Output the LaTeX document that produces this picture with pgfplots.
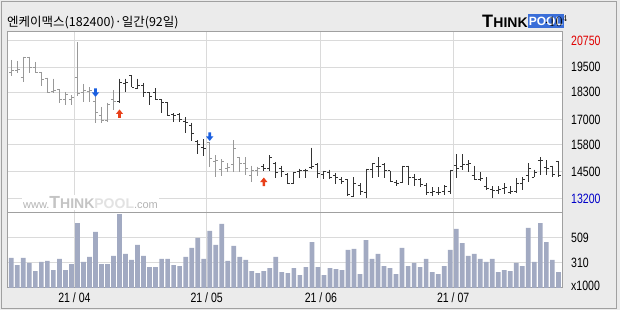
\documentclass[border=0pt]{standalone}
\usepackage{pgfplots}
\pgfplotsset{compat=1.18}
\usepackage{pgfplotstable}
\usepackage{fontspec}
\setmainfont{Liberation Sans}
\newfontfamily\krfont{Noto Sans CJK KR}
\newfontfamily\tickfont[FakeStretch=0.78]{Liberation Sans}
\definecolor{bg}{HTML}{EBEBEB}
\definecolor{framec}{HTML}{A0A0A0}
\definecolor{gridc}{HTML}{DADADA}
\definecolor{volc}{HTML}{A2AAC2}
\definecolor{bargrey}{HTML}{999999}
\definecolor{bardark}{HTML}{333333}
\definecolor{sigblue}{HTML}{1A5FE0}
\definecolor{sigred}{HTML}{E8401A}
\definecolor{tpblue}{HTML}{3A6ED8}
\definecolor{lblred}{HTML}{E00000}
\definecolor{lblblue}{HTML}{0000C8}

\pgfdeclareplotmark{otick}{\pgfpathmoveto{\pgfqpoint{-2.5pt}{0pt}}\pgfpathlineto{\pgfqpoint{0pt}{0pt}}\pgfusepathqstroke}
\pgfdeclareplotmark{ctick}{\pgfpathmoveto{\pgfqpoint{0pt}{0pt}}\pgfpathlineto{\pgfqpoint{2.5pt}{0pt}}\pgfusepathqstroke}
\pgfdeclareplotmark{dnarrow}{\pgfpathmoveto{\pgfqpoint{-1.3pt}{4.5pt}}\pgfpathlineto{\pgfqpoint{1.3pt}{4.5pt}}\pgfpathlineto{\pgfqpoint{1.3pt}{0.5pt}}\pgfpathlineto{\pgfqpoint{3.6pt}{0.5pt}}\pgfpathlineto{\pgfqpoint{0pt}{-4pt}}\pgfpathlineto{\pgfqpoint{-3.6pt}{0.5pt}}\pgfpathlineto{\pgfqpoint{-1.3pt}{0.5pt}}\pgfpathclose\pgfusepathqfill}
\pgfdeclareplotmark{uparrow}{\pgfpathmoveto{\pgfqpoint{-1.3pt}{-4.5pt}}\pgfpathlineto{\pgfqpoint{1.3pt}{-4.5pt}}\pgfpathlineto{\pgfqpoint{1.3pt}{-0.5pt}}\pgfpathlineto{\pgfqpoint{3.6pt}{-0.5pt}}\pgfpathlineto{\pgfqpoint{0pt}{4pt}}\pgfpathlineto{\pgfqpoint{-3.6pt}{-0.5pt}}\pgfpathlineto{\pgfqpoint{-1.3pt}{-0.5pt}}\pgfpathclose\pgfusepathqfill}

\pgfplotstableread{
i o h l c
0 19250 19850 19100 19350
1 19350 19800 19200 19400
2 19000 20000 18800 19950
3 19950 20000 19200 19500
4 19500 19750 19200 19250
5 19250 19250 18600 18900
6 18950 19000 18250 18300
7 18350 18950 18250 18400
8 18450 18450 17800 17950
9 17950 18300 17700 18200
10 17950 18150 17700 18050
11 19000 20700 18100 18250
12 18300 18700 17850 18400
13 18350 18550 17850 18400
14 17850 18050 16850 17350
15 17200 17600 16850 16950
16 16950 17800 16900 17700
17 17950 18400 17450 17850
18 17850 18950 17800 18750
19 18700 18950 18300 18750
20 19100 19100 18550 18550
21 18500 18950 18500 18600
22 18600 18750 18050 18300
23 18300 18300 17700 18100
24 18300 18500 17950 17950
25 17950 17950 17300 17800
26 17800 17800 17150 17200
27 17250 17300 16900 17200
28 17250 17300 16900 17000
29 16900 17100 16350 16850
30 16700 16850 15950 16350
31 15950 16000 15350 15800
32 15650 16050 15250 15600
33 15900 15900 14750 15150
34 15000 15300 14250 15050
35 14600 15100 14300 15000
36 14650 14900 14500 14700
37 14850 16000 14500 15600
38 15200 15200 14500 14900
39 14900 15200 14350 14650
40 14300 14800 14000 14550
41 14550 14750 14300 14650
42 14750 14850 14550 14650
43 14650 15300 14550 15200
44 14900 14950 14200 14450
45 14650 14800 14250 14500
46 14350 14450 13900 13950
47 13950 14500 13900 14450
48 14500 14650 14200 14550
49 14550 14650 14200 14550
50 14700 15650 14650 14750
51 14850 14900 14200 14400
52 14350 14550 14150 14500
53 14450 14600 14150 14250
54 14300 14450 13900 14250
55 14150 14250 13900 14050
56 14150 14150 13350 13400
57 13300 14250 13300 13950
58 13850 13950 13400 13550
59 13500 14650 13250 14600
60 14600 14900 14200 14900
61 14750 15200 14250 14750
62 14850 14900 14200 14550
63 14550 14550 14000 14050
64 14000 14100 13800 13950
65 14000 14800 13950 14750
66 14750 14800 13850 14250
67 14250 14400 13800 14150
68 14150 14200 13750 13900
69 13850 13950 13400 13500
70 13500 13750 13350 13550
71 13500 13750 13400 13500
72 13550 13850 13400 13800
73 13550 14600 13450 14550
74 14800 15350 14200 14650
75 14750 15350 14600 14850
76 14850 15050 14500 14900
77 14300 14800 14100 14150
78 14150 14500 14050 14200
79 13800 14250 13650 13700
80 13650 13800 13250 13600
81 13600 13800 13450 13650
82 13700 13950 13450 13750
83 13500 13800 13450 13550
84 13550 14200 13500 13950
85 13950 14250 13650 14150
86 14300 14900 14000 14650
87 14250 14600 14250 14450
88 15050 15200 14350 15050
89 14700 15050 14350 14650
90 14750 14800 14250 14350
91 15000 15000 14250 14300
}\ohlcdata

\pgfplotstableread{
i v
0 346
1 290
2 346
3 306
4 242
5 314
6 322
7 250
8 338
9 250
10 298
11 624
12 314
13 354
14 553
15 298
16 298
17 362
18 696
19 378
20 330
21 450
22 362
23 274
24 274
25 338
26 338
27 290
28 282
29 354
30 426
31 505
32 338
33 561
34 450
35 617
36 322
37 442
38 354
39 330
40 242
41 226
42 242
43 266
44 354
45 234
46 226
47 266
48 210
49 274
50 473
51 274
52 210
53 266
54 258
55 250
56 410
57 418
58 218
59 489
60 338
61 378
62 282
63 266
64 218
65 426
66 282
67 306
68 274
69 338
70 234
71 218
72 282
73 410
74 577
75 465
76 362
77 378
78 338
79 314
80 338
81 234
82 250
83 242
84 306
85 282
86 585
87 314
88 624
89 473
90 330
91 234
}\voldata

\newcommand{\ohlcgroup}[2]{%
  \addplot[draw=none, mark=none, forget plot, restrict x to domain=#2,
    error bars/.cd, y dir=minus, y explicit, error mark=none,
    error bar style={draw=#1, line width=1pt}]
    table[x=i, y=h, y error minus expr=\thisrow{h}-\thisrow{l}] {\ohlcdata};
  \addplot[only marks, mark=otick, draw=#1, line width=1pt, forget plot, restrict x to domain=#2]
    table[x=i, y=o] {\ohlcdata};
  \addplot[only marks, mark=ctick, draw=#1, line width=1pt, forget plot, restrict x to domain=#2]
    table[x=i, y=c] {\ohlcdata};
}

\begin{document}
\begin{tikzpicture}[x=1pt,y=1pt]
\fill[bg] (0,0) rectangle (620,310);
\draw[framec, line width=1pt] (1.5,1.5) rectangle (616.5,308.5);

% title
\node[anchor=base west, inner sep=0pt] at (7,283.5) {\krfont\fontsize{12.5}{12.5}\selectfont 엔케이맥스(182400)·일간(92일)};

% logo
\node[anchor=base west, inner sep=0pt] at (482,282) {\bfseries\fontsize{18}{18}\selectfont T};
\node[anchor=base west, inner sep=0pt] at (493.2,282) {\bfseries\fontsize{14}{14}\selectfont HINK};
\node[anchor=south west, fill=tpblue, text=white, inner sep=0pt, minimum width=36pt, minimum height=14.5pt, font=\bfseries\fontsize{12}{12}\selectfont] at (527.7,281.5) {POOL};

\begin{axis}[
  at={(8pt,97.5pt)}, anchor=south west, scale only axis,
  width=554pt, height=180.5pt,
  xmin=-0.55, xmax=91.6, ymin=12555, ymax=21180,
  axis background/.style={fill=white},
  axis line style={draw=framec, line width=1pt},
  xtick={10.5,32.5,51.5,73.5}, xticklabels={},
  ytick={13200,14500,15800,17000,18300,19500,20750},
  yticklabels={\textcolor{lblblue}{13200},14500,15800,17000,18300,19500,\textcolor{lblred}{20750}},
  yticklabel pos=right,
  yticklabel style={font=\tickfont\fontsize{13.5}{13.5}\selectfont, anchor=west, inner sep=0pt, xshift=9pt},
  grid=major, grid style={draw=gridc, line width=1pt},
  major tick length=0pt,
]
\ohlcgroup{bargrey}{0:17}
\ohlcgroup{bardark}{18:32}
\ohlcgroup{bargrey}{33:41}
\ohlcgroup{bardark}{42:91}
\addplot[only marks, mark=dnarrow, color=sigblue] coordinates {(14,18267) (33,16163)};
\addplot[only marks, mark=uparrow, color=sigred] coordinates {(18,17287) (42,14036)};
\end{axis}

% watermark
\node[anchor=base west, fill=white, inner sep=1pt] at (22,101.5) {%
  {\color[HTML]{B4B4B4}\fontsize{11}{11}\selectfont www.}%
  {\color[HTML]{C4C4C4}\bfseries\fontsize{17.5}{17.5}\selectfont T\fontsize{14}{14}\selectfont HINK}%
  {\color[HTML]{E2E2E2}\bfseries\fontsize{14}{14}\selectfont POOL}%
  {\color[HTML]{B4B4B4}\fontsize{11}{11}\selectfont .com}};

\begin{axis}[
  at={(8pt,22pt)}, anchor=south west, scale only axis,
  width=554pt, height=75.5pt,
  xmin=-0.55, xmax=91.6, ymin=107, ymax=708,
  axis background/.style={fill=white},
  axis line style={draw=framec, line width=1pt},
  xtick={10.5,32.5,51.5,73.5},
  xticklabels={21 / 04, 21 / 05, 21 / 06, 21 / 07},
  xticklabel style={font=\tickfont\fontsize{13.5}{13.5}\selectfont, anchor=north, inner sep=0pt, yshift=-5pt},
  ytick={310,509}, yticklabels={310,509},
  extra y ticks={123}, extra y tick labels={x1000},
  extra y tick style={grid=none},
  yticklabel pos=right,
  yticklabel style={font=\tickfont\fontsize{13.5}{13.5}\selectfont, anchor=west, inner sep=0pt, xshift=9pt},
  grid=major, grid style={draw=gridc, line width=1pt},
  major tick length=0pt,
  ybar, bar width=4.7pt,
]
\addplot[fill=volc, draw=none] table[x=i, y=v] {\voldata};
\end{axis}
\pgfresetboundingbox
\useasboundingbox (0,0) rectangle (620,310);
\end{tikzpicture}
\end{document}
